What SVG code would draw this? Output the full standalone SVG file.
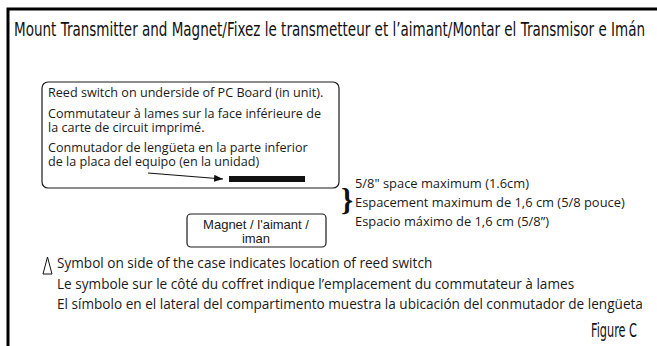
<svg xmlns="http://www.w3.org/2000/svg" width="657" height="346" viewBox="0 0 657 346">
<defs>
<style>
.title{font-family:"DejaVu Sans","Liberation Sans",sans-serif;font-size:20px;fill:#111}
.t{font-family:"Open Sans","Noto Sans","Liberation Sans",sans-serif;font-size:12.6px;fill:#1a1a1a}
.s{font-family:"Open Sans","Noto Sans","Liberation Sans",sans-serif;font-size:12.9px;fill:#1a1a1a}
.b{font-family:"Open Sans","Noto Sans","Liberation Sans",sans-serif;font-size:13.6px;fill:#1a1a1a}
.h{font-family:"Liberation Sans",Arial,sans-serif;font-size:13px;fill:#1a1a1a}
.box{fill:#fff;stroke:#1a1a1a;stroke-width:1.2}
</style>
<marker id="ah" markerWidth="9" markerHeight="7" refX="9" refY="3.5" orient="auto" markerUnits="userSpaceOnUse">
<path d="M0,0 L9,3.5 L0,7 Z" fill="#111"/>
</marker>
</defs>
<rect width="657" height="346" fill="#fff"/>
<path d="M8,346 V9 H657" fill="none" stroke="#000" stroke-width="3"/>
<text class="title" x="14" y="36" textLength="631" lengthAdjust="spacingAndGlyphs">Mount Transmitter and Magnet/Fixez le transmetteur et l’aimant/Montar el Transmisor e Imán</text>

<g id="reed-box">
<rect class="box" x="42" y="82" width="297" height="106" rx="6"/>
<text class="t" x="48" y="97">Reed switch on underside of PC Board (in unit).</text>
<text class="t" x="48" y="118">Commutateur à lames sur la face inférieure de</text>
<text class="t" x="48" y="132">la carte de circuit imprimé.</text>
<text class="t" x="48" y="152">Conmutador de lengüeta en la parte inferior</text>
<text class="t" x="48" y="166">de la placa del equipo (en la unidad)</text>
<rect x="229" y="176" width="76" height="6" fill="#111"/>
</g>

<g id="connectors">
<line x1="148" y1="173" x2="223" y2="179" stroke="#111" stroke-width="1.2" marker-end="url(#ah)"/>
</g>

<g id="spacing">
<text x="341" y="210" font-family="Liberation Serif,serif" font-size="31" font-weight="bold" fill="#111">}</text>
<text class="s" x="355" y="188">5/8" space maximum (1.6cm)</text>
<text class="s" x="355" y="207">Espacement maximum de 1,6 cm (5/8 pouce)</text>
<text class="s" x="355" y="226">Espacio máximo de 1,6 cm (5/8”)</text>
</g>

<g id="magnet">
<rect class="box" x="187" y="214" width="139" height="33" rx="4"/>
<text class="h" x="256" y="229" text-anchor="middle">Magnet / l'aimant /</text>
<text class="h" x="256" y="243" text-anchor="middle">iman</text>
</g>

<g id="symbol-note">
<path d="M47.5,257 L43,274 H52 Z" fill="none" stroke="#111" stroke-width="1"/>
<text class="b" x="57" y="268">Symbol on side of the case indicates location of reed switch</text>
<text class="b" x="57" y="289">Le symbole sur le côté du coffret indique l’emplacement du commutateur à lames</text>
<text class="b" x="57" y="309">El símbolo en el lateral del compartimento muestra la ubicación del conmutador de lengüeta</text>
</g>

<text class="title" x="591" y="337" font-size="17" textLength="46" lengthAdjust="spacingAndGlyphs">Figure C</text>
</svg>
